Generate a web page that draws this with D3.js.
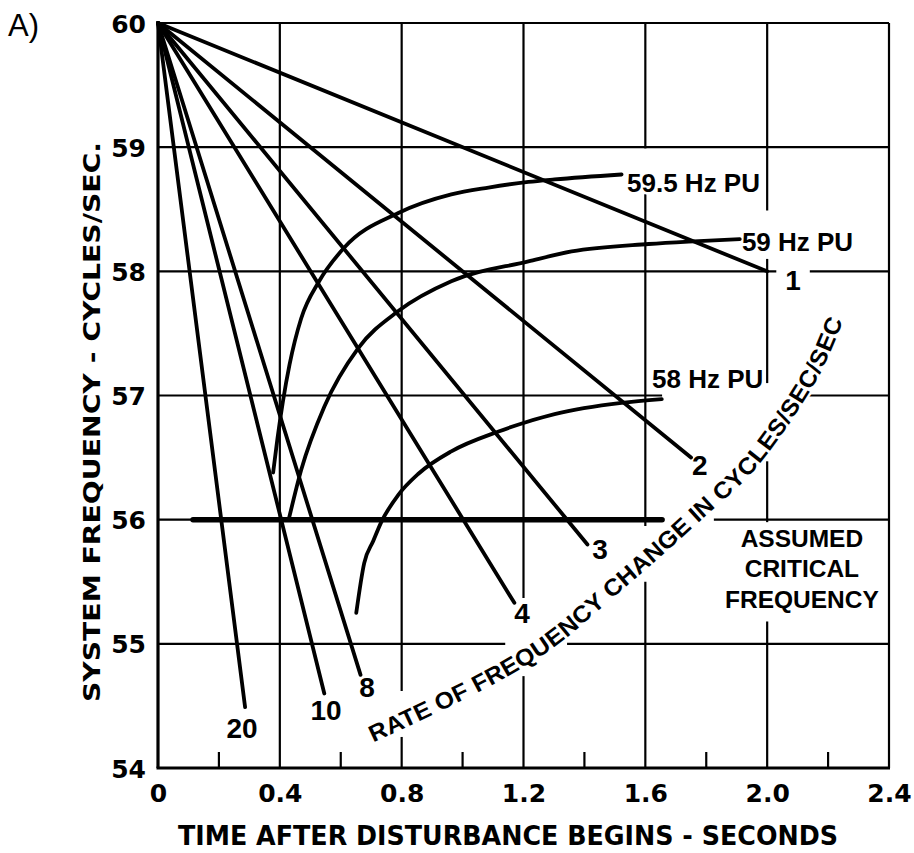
<!DOCTYPE html>
<html><head><meta charset="utf-8">
<script src="https://cdn.jsdelivr.net/npm/d3@7"></script>
<style>html,body{margin:0;padding:0;background:#fff;} svg{display:block;}</style>
</head><body>
<svg id="chart" width="914" height="853"></svg>
<script>
// ---------- data ----------
const xTicks = [0, 0.4, 0.8, 1.2, 1.6, 2.0, 2.4];
const xTickLabels = ["0", "0.4", "0.8", "1.2", "1.6", "2.0", "2.4"];
const xMinorTicks = [0.2, 0.6, 1.0, 1.4, 1.8, 2.2];
const yTicks = [54, 55, 56, 57, 58, 59, 60];
const xGrid = [0.4, 0.8, 1.2, 1.6, 2.0, 2.4];
const yGrid = [55, 56, 57, 58, 59, 60];

// rate-of-change lines (cycles/sec/sec), all start at t=0, 60 Hz
const rateLabels = ["1", "2", "3", "4", "8", "10", "20"];
const rateEndTime = [2.0, 1.75, 1.41, 1.17, 0.665, 0.546, 0.286];
const rateEndFreq = [58.0, 56.5, 55.8, 55.33, 54.75, 54.6, 54.49];
const rateLabelT = [2.085, 1.779, 1.451, 1.195, 0.686, 0.552, 0.276];
const rateLabelF = [57.85, 56.36, 55.68, 55.17, 54.57, 54.39, 54.24];

// relay pick-up curves
const pu595T = [0.378, 0.392, 0.410, 0.432, 0.470, 0.529, 0.611, 0.789, 0.963, 1.085, 1.216, 1.302, 1.522];
const pu595F = [56.38, 56.65, 56.95, 57.25, 57.62, 57.92, 58.19, 58.47, 58.62, 58.675, 58.72, 58.74, 58.78];
const pu59T = [0.431, 0.470, 0.546, 0.657, 0.789, 0.963, 1.216, 1.358, 1.611, 1.742, 1.910];
const pu59F = [56.02, 56.40, 56.91, 57.38, 57.68, 57.92, 58.08, 58.16, 58.22, 58.24, 58.26];
const pu58T = [0.651, 0.677, 0.707, 0.733, 0.789, 0.855, 0.963, 1.118, 1.302, 1.522, 1.654];
const pu58F = [55.25, 55.65, 55.83, 55.98, 56.20, 56.37, 56.55, 56.71, 56.85, 56.94, 56.97];
const puLabels = ["59.5 Hz PU", "59 Hz PU", "58 Hz PU"];
const puLabelT = [1.540, 1.917, 1.622];
const puLabelF = [58.64, 58.16, 57.06];

// assumed critical frequency
const criticalFreq = 56;
const criticalT = [0.115, 1.655];
const criticalLines = ["ASSUMED", "CRITICAL", "FREQUENCY"];
const criticalLabelT = 2.114;
const criticalLabelF = [55.78, 55.54, 55.29];

// curved annotation baseline (data units); pieces joined by a space unless they start with "/"
const rateTitleWords = ["RATE", "OF", "FREQUENCY", "CHANGE", "IN", "CYCLES", "/SEC", "/SEC"];
const rateTitleT = [0.696, 0.893, 1.106, 1.287, 1.451, 1.615, 1.779, 1.927, 2.058, 2.157, 2.223];
const rateTitleF = [54.267, 54.493, 54.758, 55.032, 55.370, 55.717, 56.079, 56.417, 56.844, 57.246, 57.625];

// gaps in grid lines where lettering interrupts them
const vGaps = [[0.8, 54.25, 54.62], [1.2, 54.74, 55.37], [1.6, 58.62, 58.99], [1.6, 55.5, 55.95],
               [2.0, 58.1, 58.49], [2.0, 56.47, 57.1], [2.0, 55.18, 55.98]];
const hGaps = [[58, 2.03, 2.14], [57, 1.655, 2.13], [56, 1.655, 1.825], [55, 1.14, 1.343]];

// ---------- drawing ----------
const svg = d3.select("#chart");
const x = d3.scaleLinear().domain([0, 2.4]).range([158, 889]);
const y = d3.scaleLinear().domain([54, 60]).range([768, 23]);
const ink = "#000";

function segs(lo, hi, gaps) {
  const g = gaps.slice().sort((a, b) => a[0] - b[0]);
  const out = []; let cur = lo;
  g.forEach(([a, b]) => { if (a > cur) out.push([cur, a]); cur = Math.max(cur, b); });
  if (cur < hi) out.push([cur, hi]);
  return out;
}

const grid = svg.append("g").attr("stroke", ink).attr("stroke-width", 2.2).attr("fill", "none");
xGrid.forEach(v => {
  const gaps = vGaps.filter(d => d[0] === v).map(d => [Math.min(d[1], d[2]), Math.max(d[1], d[2])]);
  segs(54, 60, gaps).forEach(([a, b]) => {
    grid.append("line").attr("x1", x(v)).attr("x2", x(v)).attr("y1", y(a)).attr("y2", y(b));
  });
});
yGrid.forEach(v => {
  const gaps = hGaps.filter(d => d[0] === v).map(d => [d[1], d[2]]);
  segs(0, 2.4, gaps).forEach(([a, b]) => {
    grid.append("line").attr("y1", y(v)).attr("y2", y(v)).attr("x1", x(a)).attr("x2", x(b));
  });
});
xMinorTicks.forEach(v => {
  grid.append("line").attr("x1", x(v)).attr("x2", x(v)).attr("y1", y(54)).attr("y2", y(54) - 16);
});
svg.append("line").attr("x1", x(0)).attr("x2", x(0)).attr("y1", y(60)).attr("y2", y(54))
  .attr("stroke", ink).attr("stroke-width", 3.2);
svg.append("line").attr("x1", x(0) - 1.5).attr("x2", x(2.4) + 1).attr("y1", y(54)).attr("y2", y(54))
  .attr("stroke", ink).attr("stroke-width", 3.2);

// critical frequency line
svg.append("line").attr("x1", x(criticalT[0])).attr("x2", x(criticalT[1]))
  .attr("y1", y(criticalFreq)).attr("y2", y(criticalFreq))
  .attr("stroke", ink).attr("stroke-width", 5.5).attr("stroke-linecap", "round");

// axes labels
const xAxis = svg.append("g").attr("transform", `translate(0,${y(54)})`)
  .call(d3.axisBottom(x).tickValues(xTicks).tickSize(0).tickFormat((d, i) => xTickLabels[i]));
xAxis.select(".domain").remove();
xAxis.selectAll("text").attr("y", 34).attr("dy", 0)
  .attr("font-family", "DejaVu Sans").attr("font-weight", "bold").attr("font-size", 25).attr("fill", ink);

const yAxis = svg.append("g").attr("transform", `translate(${x(0)},0)`)
  .call(d3.axisLeft(y).tickValues(yTicks).tickSize(0).tickPadding(12).tickFormat(d3.format("d")));
yAxis.select(".domain").remove();
yAxis.selectAll("text").attr("dy", "0.36em")
  .attr("font-family", "DejaVu Sans").attr("font-weight", "bold").attr("font-size", 25).attr("fill", ink);

// titles
svg.append("text").attr("x", 508).attr("y", 845).attr("text-anchor", "middle")
  .attr("font-family", "DejaVu Sans").attr("font-weight", "bold").attr("font-size", 27)
  .attr("textLength", 660).attr("lengthAdjust", "spacingAndGlyphs")
  .text("TIME AFTER DISTURBANCE BEGINS - SECONDS");
svg.append("text").attr("transform", "translate(100,422) rotate(-90)").attr("text-anchor", "middle")
  .attr("font-family", "DejaVu Sans").attr("font-weight", "bold").attr("font-size", 23)
  .attr("textLength", 560).attr("lengthAdjust", "spacingAndGlyphs")
  .text("SYSTEM FREQUENCY - CYCLES/SEC.");
svg.append("text").attr("x", 8).attr("y", 36)
  .attr("font-family", "Liberation Sans").attr("font-size", 31).text("A)");

// labels with white halo
function halo(sel) {
  return sel.attr("stroke", "#fff").attr("stroke-width", 5).attr("paint-order", "stroke")
    .attr("stroke-linejoin", "round").attr("fill", ink);
}
const lab = svg.append("g");
rateLabels.forEach((t, i) => {
  halo(lab.append("text").attr("x", x(rateLabelT[i])).attr("y", y(rateLabelF[i]))
    .attr("text-anchor", "middle").attr("font-family", "Liberation Sans").attr("font-weight", "bold")
    .attr("font-size", 28).text(t));
});
puLabels.forEach((t, i) => {
  halo(lab.append("text").attr("x", x(puLabelT[i])).attr("y", y(puLabelF[i]))
    .attr("font-family", "Liberation Sans").attr("font-weight", "bold")
    .attr("font-size", 26).text(t));
});
criticalLines.forEach((t, i) => {
  halo(lab.append("text").attr("x", x(criticalLabelT)).attr("y", y(criticalLabelF[i]))
    .attr("text-anchor", "middle").attr("font-family", "Liberation Sans").attr("font-weight", "bold")
    .attr("font-size", 24.5).text(t));
});

// curved title, one text per piece along a path
const titlePts = rateTitleT.map((t, i) => [x(t), y(rateTitleF[i])]);
const pathGen = d3.line().curve(d3.curveCatmullRom.alpha(0.5));
svg.append("defs").append("path").attr("id", "ratePath").attr("d", pathGen(titlePts));
const plen = document.getElementById("ratePath").getTotalLength();
const fontAttrs = s => s.attr("font-family", "Liberation Sans").attr("font-weight", "bold").attr("font-size", 23.5);
const meas = fontAttrs(svg.append("text"));
const wordW = rateTitleWords.map(w => { meas.text(w); return meas.node().getComputedTextLength(); });
meas.text("\u00a0"); const spaceW = meas.node().getComputedTextLength();
meas.remove();
const gapsBefore = rateTitleWords.map((w, i) => (i === 0 || w.startsWith("/")) ? 0 : spaceW);
const natural = d3.sum(wordW) + d3.sum(gapsBefore);
const k = plen / natural;
let off = 0;
rateTitleWords.forEach((w, i) => {
  off += gapsBefore[i] * k;
  const t = halo(fontAttrs(lab.append("text")).attr("dy", "0.36em"));
  t.append("textPath").attr("href", "#ratePath").attr("startOffset", off)
    .attr("textLength", wordW[i] * k).attr("lengthAdjust", "spacingAndGlyphs").text(w);
  off += wordW[i] * k;
});

// rate lines
const lines = svg.append("g").attr("stroke", ink).attr("stroke-width", 3.8).attr("fill", "none")
  .attr("stroke-linecap", "round");
rateEndTime.forEach((t, i) => {
  lines.append("path").attr("d", d3.line()([[x(0), y(60)], [x(t), y(rateEndFreq[i])]]));
});
// PU curves
const curve = d3.line().x(d => x(d[0])).y(d => y(d[1])).curve(d3.curveMonotoneX);
[[pu595T, pu595F], [pu59T, pu59F], [pu58T, pu58F]].forEach(([T, F]) => {
  lines.append("path").attr("d", curve(T.map((t, i) => [t, F[i]])));
});
</script>
</body></html>
